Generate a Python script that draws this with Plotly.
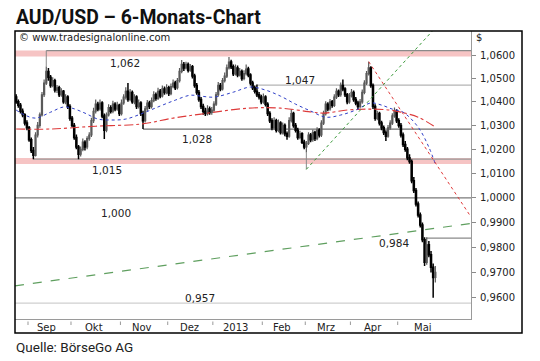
import math
import plotly.graph_objects as go

# ---------------- data ----------------
opens = [1.0420, 1.0400, 1.0385, 1.0360, 1.0345, 1.0310, 1.0290, 1.0240, 1.0195, 1.0175,
         1.0260, 1.0300, 1.0345, 1.0430, 1.0480, 1.0530, 1.0505, 1.0470, 1.0490, 1.0450,
         1.0460, 1.0430, 1.0445, 1.0400, 1.0420, 1.0380, 1.0330, 1.0300, 1.0250, 1.0210,
         1.0180, 1.0200, 1.0230, 1.0210, 1.0245, 1.0260, 1.0320, 1.0360, 1.0390, 1.0370,
         1.0395, 1.0340, 1.0280, 1.0345, 1.0375, 1.0360, 1.0390, 1.0370, 1.0385, 1.0350,
         1.0395, 1.0420, 1.0445, 1.0410, 1.0440, 1.0400, 1.0420, 1.0380, 1.0395, 1.0350,
         1.0320, 1.0370, 1.0395, 1.0380, 1.0405, 1.0430, 1.0415, 1.0445, 1.0425, 1.0455,
         1.0440, 1.0460, 1.0435, 1.0465, 1.0480, 1.0460, 1.0490, 1.0530, 1.0560, 1.0545,
         1.0560, 1.0535, 1.0550, 1.0510, 1.0470, 1.0440, 1.0410, 1.0380, 1.0360, 1.0350,
         1.0370, 1.0355, 1.0365, 1.0390, 1.0430, 1.0470, 1.0455, 1.0490, 1.0510, 1.0545,
         1.0570, 1.0550, 1.0520, 1.0545, 1.0515, 1.0530, 1.0500, 1.0520, 1.0540, 1.0515,
         1.0480, 1.0460, 1.0445, 1.0430, 1.0420, 1.0400, 1.0420, 1.0390, 1.0350, 1.0320,
         1.0290, 1.0320, 1.0280, 1.0310, 1.0270, 1.0300, 1.0265, 1.0255, 1.0320, 1.0350,
         1.0300, 1.0280, 1.0250, 1.0265, 1.0230, 1.0210, 1.0225, 1.0260, 1.0240, 1.0270,
         1.0245, 1.0280, 1.0260, 1.0310, 1.0350, 1.0390, 1.0370, 1.0400, 1.0385, 1.0420,
         1.0445, 1.0430, 1.0470, 1.0455, 1.0430, 1.0400, 1.0425, 1.0440, 1.0410, 1.0395,
         1.0380, 1.0400, 1.0440, 1.0480, 1.0520, 1.0545, 1.0470, 1.0380, 1.0330, 1.0350,
         1.0310, 1.0290, 1.0270, 1.0255, 1.0290, 1.0310, 1.0340, 1.0360, 1.0320, 1.0300,
         1.0260, 1.0220, 1.0200, 1.0165, 1.0150, 1.0070, 1.0030, 0.9975, 0.9930, 0.9890,
         0.9830, 0.9740, 0.9810, 0.9770, 0.9720, 0.9680]

highs = [1.0432, 1.0410, 1.0395, 1.0372, 1.0352, 1.0322, 1.0298, 1.0250, 1.0210, 1.0272,
         1.0315, 1.0355, 1.0442, 1.0495, 1.0551, 1.0545, 1.0515, 1.0505, 1.0498, 1.0472,
         1.0468, 1.0458, 1.0450, 1.0432, 1.0428, 1.0390, 1.0340, 1.0310, 1.0262, 1.0218,
         1.0212, 1.0245, 1.0238, 1.0255, 1.0272, 1.0332, 1.0375, 1.0410, 1.0400, 1.0410,
         1.0402, 1.0350, 1.0355, 1.0390, 1.0385, 1.0405, 1.0398, 1.0400, 1.0392, 1.0410,
         1.0432, 1.0462, 1.0480, 1.0455, 1.0448, 1.0432, 1.0428, 1.0410, 1.0402, 1.0362,
         1.0382, 1.0408, 1.0405, 1.0418, 1.0445, 1.0440, 1.0460, 1.0455, 1.0470, 1.0465,
         1.0475, 1.0468, 1.0478, 1.0495, 1.0490, 1.0502, 1.0545, 1.0579, 1.0570, 1.0572,
         1.0568, 1.0562, 1.0558, 1.0520, 1.0480, 1.0450, 1.0420, 1.0392, 1.0375, 1.0385,
         1.0380, 1.0378, 1.0402, 1.0442, 1.0485, 1.0480, 1.0502, 1.0525, 1.0560, 1.0592,
         1.0580, 1.0560, 1.0560, 1.0555, 1.0545, 1.0538, 1.0535, 1.0560, 1.0550, 1.0522,
         1.0490, 1.0470, 1.0474, 1.0442, 1.0430, 1.0435, 1.0428, 1.0398, 1.0360, 1.0330,
         1.0335, 1.0328, 1.0325, 1.0318, 1.0312, 1.0308, 1.0275, 1.0335, 1.0368, 1.0358,
         1.0310, 1.0290, 1.0278, 1.0272, 1.0240, 1.0235, 1.0272, 1.0268, 1.0282, 1.0278,
         1.0292, 1.0288, 1.0322, 1.0362, 1.0402, 1.0398, 1.0412, 1.0408, 1.0432, 1.0458,
         1.0452, 1.0482, 1.0495, 1.0462, 1.0438, 1.0438, 1.0455, 1.0448, 1.0420, 1.0405,
         1.0412, 1.0452, 1.0492, 1.0532, 1.0572, 1.0552, 1.0478, 1.0390, 1.0362, 1.0358,
         1.0320, 1.0300, 1.0280, 1.0302, 1.0322, 1.0352, 1.0376, 1.0368, 1.0330, 1.0310,
         1.0270, 1.0235, 1.0210, 1.0180, 1.0158, 1.0085, 1.0040, 0.9985, 0.9940, 0.9900,
         0.9840, 0.9840, 0.9825, 0.9785, 0.9735, 0.9725]

lows = [1.0392, 1.0375, 1.0350, 1.0335, 1.0300, 1.0280, 1.0232, 1.0185, 1.0159, 1.0170,
        1.0250, 1.0290, 1.0338, 1.0420, 1.0472, 1.0490, 1.0460, 1.0462, 1.0440, 1.0438,
        1.0420, 1.0422, 1.0392, 1.0390, 1.0370, 1.0320, 1.0292, 1.0240, 1.0200, 1.0159,
        1.0170, 1.0192, 1.0195, 1.0200, 1.0236, 1.0252, 1.0310, 1.0350, 1.0360, 1.0362,
        1.0330, 1.0243, 1.0272, 1.0338, 1.0350, 1.0352, 1.0360, 1.0362, 1.0340, 1.0342,
        1.0388, 1.0410, 1.0400, 1.0402, 1.0392, 1.0390, 1.0370, 1.0372, 1.0340, 1.0285,
        1.0312, 1.0360, 1.0370, 1.0372, 1.0398, 1.0405, 1.0408, 1.0415, 1.0418, 1.0430,
        1.0432, 1.0425, 1.0428, 1.0458, 1.0450, 1.0452, 1.0482, 1.0522, 1.0532, 1.0538,
        1.0525, 1.0528, 1.0500, 1.0460, 1.0430, 1.0400, 1.0370, 1.0345, 1.0340, 1.0342,
        1.0345, 1.0345, 1.0358, 1.0382, 1.0422, 1.0445, 1.0448, 1.0482, 1.0502, 1.0538,
        1.0540, 1.0510, 1.0512, 1.0505, 1.0508, 1.0490, 1.0492, 1.0512, 1.0505, 1.0470,
        1.0450, 1.0435, 1.0420, 1.0410, 1.0390, 1.0392, 1.0380, 1.0340, 1.0310, 1.0280,
        1.0282, 1.0270, 1.0272, 1.0262, 1.0262, 1.0255, 1.0240, 1.0248, 1.0312, 1.0290,
        1.0270, 1.0240, 1.0242, 1.0222, 1.0200, 1.0187, 1.0218, 1.0230, 1.0232, 1.0235,
        1.0238, 1.0250, 1.0252, 1.0302, 1.0342, 1.0360, 1.0362, 1.0375, 1.0378, 1.0412,
        1.0420, 1.0422, 1.0445, 1.0420, 1.0390, 1.0392, 1.0418, 1.0400, 1.0385, 1.0365,
        1.0372, 1.0392, 1.0432, 1.0472, 1.0512, 1.0460, 1.0370, 1.0320, 1.0322, 1.0300,
        1.0280, 1.0260, 1.0235, 1.0248, 1.0282, 1.0302, 1.0332, 1.0310, 1.0290, 1.0250,
        1.0210, 1.0190, 1.0155, 1.0140, 1.0060, 1.0020, 0.9965, 0.9920, 0.9880, 0.9820,
        0.9725, 0.9730, 0.9760, 0.9700, 0.9600, 0.9660]

closes = [1.0400, 1.0385, 1.0360, 1.0345, 1.0310, 1.0290, 1.0240, 1.0195, 1.0175, 1.0260,
          1.0300, 1.0345, 1.0430, 1.0480, 1.0530, 1.0505, 1.0470, 1.0490, 1.0450, 1.0460,
          1.0430, 1.0445, 1.0400, 1.0420, 1.0380, 1.0330, 1.0300, 1.0250, 1.0210, 1.0180,
          1.0200, 1.0230, 1.0210, 1.0245, 1.0260, 1.0320, 1.0360, 1.0390, 1.0370, 1.0395,
          1.0340, 1.0280, 1.0345, 1.0375, 1.0360, 1.0390, 1.0370, 1.0385, 1.0350, 1.0395,
          1.0420, 1.0445, 1.0410, 1.0440, 1.0400, 1.0420, 1.0380, 1.0395, 1.0350, 1.0320,
          1.0370, 1.0395, 1.0380, 1.0405, 1.0430, 1.0415, 1.0445, 1.0425, 1.0455, 1.0440,
          1.0460, 1.0435, 1.0465, 1.0480, 1.0460, 1.0490, 1.0530, 1.0560, 1.0545, 1.0560,
          1.0535, 1.0550, 1.0510, 1.0470, 1.0440, 1.0410, 1.0380, 1.0360, 1.0350, 1.0370,
          1.0355, 1.0365, 1.0390, 1.0430, 1.0470, 1.0455, 1.0490, 1.0510, 1.0545, 1.0570,
          1.0550, 1.0520, 1.0545, 1.0515, 1.0530, 1.0500, 1.0520, 1.0540, 1.0515, 1.0480,
          1.0460, 1.0445, 1.0430, 1.0420, 1.0400, 1.0420, 1.0390, 1.0350, 1.0320, 1.0290,
          1.0320, 1.0280, 1.0310, 1.0270, 1.0300, 1.0265, 1.0255, 1.0320, 1.0350, 1.0300,
          1.0280, 1.0250, 1.0265, 1.0230, 1.0210, 1.0225, 1.0260, 1.0240, 1.0270, 1.0245,
          1.0280, 1.0260, 1.0310, 1.0350, 1.0390, 1.0370, 1.0400, 1.0385, 1.0420, 1.0445,
          1.0430, 1.0470, 1.0455, 1.0430, 1.0400, 1.0425, 1.0440, 1.0410, 1.0395, 1.0380,
          1.0400, 1.0440, 1.0480, 1.0520, 1.0545, 1.0470, 1.0380, 1.0330, 1.0350, 1.0310,
          1.0290, 1.0270, 1.0255, 1.0290, 1.0310, 1.0340, 1.0360, 1.0320, 1.0300, 1.0260,
          1.0220, 1.0200, 1.0165, 1.0150, 1.0070, 1.0030, 0.9975, 0.9930, 0.9890, 0.9830,
          0.9740, 0.9810, 0.9770, 0.9720, 0.9680, 0.9700]

days = list(range(len(closes)))  # trading-day index

# moving averages
blue_ma_days = [0, 4, 9, 16, 22, 26, 32, 38, 44, 51, 59, 67, 74, 81, 86, 92, 101, 109,
                116, 123, 130, 137, 144, 151, 158, 165, 170, 175, 180, 187, 192, 195]
blue_ma_vals = [1.0365, 1.0344, 1.0331, 1.0356, 1.0378, 1.0373, 1.0352, 1.0327, 1.0323,
                1.0327, 1.0352, 1.0382, 1.0407, 1.0428, 1.0424, 1.0420, 1.0441, 1.0463,
                1.0450, 1.0424, 1.0390, 1.0361, 1.0335, 1.0344, 1.0365, 1.0395, 1.0386,
                1.0369, 1.0356, 1.0293, 1.0209, 1.0139]
red_ma_days = [0, 16, 37, 58, 73, 86, 108, 123, 138, 143, 154, 165, 174, 179, 187, 195]
red_ma_vals = [1.0285, 1.0285, 1.0297, 1.0306, 1.0331, 1.0348, 1.0373, 1.0373, 1.0356,
               1.0352, 1.0365, 1.0369, 1.0365, 1.0356, 1.0335, 1.0293]

# trend lines (two anchor points each)
green_up_days = [135, 194]
green_up_vals = [1.0117, 1.0709]
green_long_days = [-0.55, 211.6]
green_long_vals = [0.9647, 0.9896]
red_down_days = [164, 211.6]
red_down_vals = [1.0572, 0.9922]

# horizontal levels: start day and value
level_days = [14, 8, 112, 59, -0.55, 191, -0.55]
level_vals = [1.0620, 1.0159, 1.0471, 1.0285, 1.0000, 0.9837, 0.9579]
level_colors = ["#8a8a8a", "#9a9a9a", "#b4b4b4", "#6e6e6e", "#7a7a7a", "#8a8a8a", "#cfcfcf"]
band_vals = [(1.0594, 1.0620), (1.0139, 1.0164)]
level_labels = ["1,062", "1,015", "1,047", "1,028", "1,000", "0,984", "0,957"]

month_start_days = [5.5, 25.5, 48.5, 70.5, 91.5, 114.5, 134.5, 155.5, 177.5]
month_label_days = [14.2, 36.2, 58.4, 80.5, 101.9, 123.6, 144.2, 166.1, 189.4]
month_labels = ["Sep", "Okt", "Nov", "Dez", "2013", "Feb", "Mrz", "Apr", "Mai"]

price_ticks = [0.96, 0.97, 0.98, 0.99, 1.00, 1.01, 1.02, 1.03, 1.04, 1.05, 1.06]
price_tick_labels = ["0,9600", "0,9700", "0,9800", "0,9900", "1,0000", "1,0100",
                     "1,0200", "1,0300", "1,0400", "1,0500", "1,0600"]

X_MIN, X_MAX = -0.55, 211.6
Y_MIN, Y_MAX = 0.95171, 1.07052

# ---------------- figure ----------------
W, H = 540, 361
ML, MR, MT, MB = 15, 69, 31, 42
PW, PH = W - ML - MR, H - MT - MB
FONT = "DejaVu Sans"
TXT = "#222222"


def px(x):
    return (x - ML) / PW


def py(y):
    return (H - MB - y) / PH


fig = go.Figure()

# bands and levels on base subplot (behind candles)
for lo, hi in band_vals:
    fig.add_trace(go.Scatter(x=[X_MIN, X_MAX, X_MAX, X_MIN, X_MIN], y=[lo, lo, hi, hi, lo],
                             mode="lines", fill="toself", fillcolor="#f6c4c4",
                             line=dict(width=0), hoverinfo="skip", showlegend=False))
for d, v, c in zip(level_days, level_vals, level_colors):
    fig.add_trace(go.Scatter(x=[d, X_MAX], y=[v, v], mode="lines",
                             line=dict(color=c, width=1.2), hoverinfo="skip", showlegend=False))
# small vertical connectors
fig.add_trace(go.Scatter(x=[14, 14], y=[highs[14], level_vals[0]], mode="lines",
                         line=dict(color="#8a8a8a", width=1), hoverinfo="skip", showlegend=False))
fig.add_trace(go.Scatter(x=[135, 135], y=[lows[135], green_up_vals[0]], mode="lines",
                         line=dict(color="#8a8a8a", width=1), hoverinfo="skip", showlegend=False))

# candles on overlay subplot
fig.add_trace(go.Candlestick(
    x=days, open=opens, high=highs, low=lows, close=closes, yaxis="y2",
    increasing=dict(line=dict(color="#5a5a5a", width=1.2), fillcolor="#b8b8b8"),
    decreasing=dict(line=dict(color="#000000", width=1.5), fillcolor="#000000"),
    whiskerwidth=0, hoverinfo="skip", showlegend=False))

fig.add_trace(go.Scatter(x=red_ma_days, y=red_ma_vals, yaxis="y2", mode="lines",
                         line=dict(color="#dd3a3a", width=1.1, dash="dashdot", shape="spline"),
                         hoverinfo="skip", showlegend=False))
fig.add_trace(go.Scatter(x=blue_ma_days, y=blue_ma_vals, yaxis="y2", mode="lines",
                         line=dict(color="#2f3fc8", width=1, dash="dot", shape="spline"),
                         hoverinfo="skip", showlegend=False))
fig.add_trace(go.Scatter(x=green_long_days, y=green_long_vals, yaxis="y2", mode="lines",
                         line=dict(color="#5f9f5f", width=1.2, dash="dash"),
                         hoverinfo="skip", showlegend=False))
fig.add_trace(go.Scatter(x=green_up_days, y=green_up_vals, yaxis="y2", mode="lines",
                         line=dict(color="#3c9a3c", width=1, dash="dot"),
                         hoverinfo="skip", showlegend=False))
fig.add_trace(go.Scatter(x=red_down_days, y=red_down_vals, yaxis="y2", mode="lines",
                         line=dict(color="#e03c3c", width=1, dash="dot"),
                         hoverinfo="skip", showlegend=False))

yrange = [math.log10(Y_MIN), math.log10(Y_MAX)]

shapes = [
    dict(type="rect", xref="paper", yref="paper", x0=0, x1=px(522), y0=py(333), y1=1,
         line=dict(color="#000000", width=1.5), fillcolor="rgba(0,0,0,0)", layer="above"),
]
for d in month_start_days:
    shapes.append(dict(type="line", xref="x", yref="paper", x0=d, x1=d,
                       y0=py(321.5), y1=py(325), line=dict(color="#999999", width=1)))

annotations = [
    dict(text="<b>AUD/USD – 6-Monats-Chart</b>", xref="paper", yref="paper",
         x=px(14), y=py(17.5), xanchor="left", yanchor="middle", showarrow=False,
         font=dict(family="Roboto", size=19.4, color="#111111")),
    dict(text="Quelle: BörseGo AG", xref="paper", yref="paper",
         x=px(14), y=py(347), xanchor="left", yanchor="middle", showarrow=False,
         font=dict(family="Roboto", size=13.5, color="#222222")),
    dict(text="© www.tradesignalonline.com", xref="paper", yref="paper",
         x=px(17), y=py(37.5), xanchor="left", yanchor="middle", showarrow=False,
         font=dict(family=FONT, size=10, color=TXT)),
    dict(text="$", xref="paper", yref="paper", x=px(478.5), y=py(37), xanchor="center",
         yanchor="middle", showarrow=False, font=dict(family=FONT, size=10, color=TXT)),
]
for d, t in zip(month_label_days, month_labels):
    annotations.append(dict(text=t, xref="x", yref="paper", x=d, y=py(327.5),
                            xanchor="center", yanchor="middle", showarrow=False,
                            font=dict(family=FONT, size=10, color=TXT)))
label_pos = [(125, 63), (107, 170), (299.5, 80.3), (196.7, 138.5), (116, 213),
             (394, 242.5), (200, 297.5)]
for t, (lx, ly) in zip(level_labels, label_pos):
    annotations.append(dict(text=t, xref="paper", yref="paper", x=px(lx), y=py(ly),
                            xanchor="center", yanchor="middle", showarrow=False,
                            font=dict(family=FONT, size=10.5, color=TXT)))

fig.update_layout(
    width=W, height=H, margin=dict(l=ML, r=MR, t=MT, b=MB, pad=0),
    paper_bgcolor="white", plot_bgcolor="white", showlegend=False,
    xaxis=dict(range=[X_MIN, X_MAX], showticklabels=False, ticks="", showgrid=False,
               zeroline=False, showline=True, linecolor="#9a9a9a", linewidth=1,
               rangeslider=dict(visible=False), fixedrange=True, automargin=False),
    yaxis=dict(type="log", range=yrange, side="right", tickmode="array",
               tickvals=price_ticks, ticktext=price_tick_labels, ticks="outside",
               ticklen=4, tickcolor="#8a8a8a", ticklabelstandoff=2, showgrid=False,
               zeroline=False, showline=True, linecolor="#9a9a9a", linewidth=1,
               tickfont=dict(family=FONT, size=10, color=TXT), fixedrange=True,
               automargin=False),
    yaxis2=dict(type="log", range=yrange, overlaying="y", side="right", visible=False,
                fixedrange=True),
    shapes=shapes, annotations=annotations,
)

fig.write_html("out.html", config={"displayModeBar": False},
               post_script="document.body.style.margin='0';"
                           "document.body.style.overflow='hidden';")
